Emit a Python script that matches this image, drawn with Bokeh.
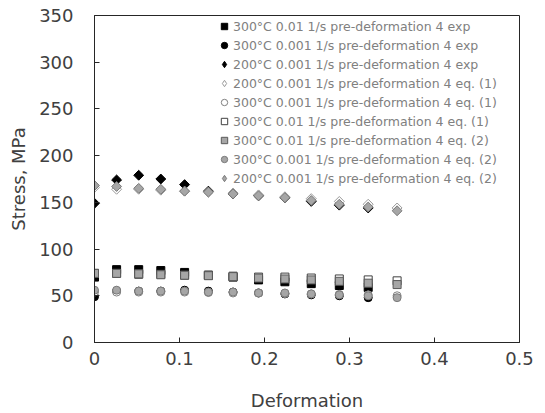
import math
from bokeh.plotting import figure
from bokeh.models import Legend, LegendItem, Range1d, FixedTicker, CustomJSTickFormatter
from bokeh.embed import file_html
from bokeh.resources import INLINE

# strain points
x_eq = [0, 0.026, 0.052, 0.078, 0.106, 0.134, 0.163, 0.193, 0.224, 0.255, 0.288, 0.322, 0.356]
x_exp = x_eq[:12]

# experimental
exp_300_001 = [70, 78, 78, 77, 75, 72, 70, 67, 65, 63, 61, 59]
exp_300_0001 = [49, 55, 55, 55, 56, 55, 54, 53, 52, 51, 50, 48]
exp_200_0001 = [149, 174, 179, 175, 169, 162, 159, 157, 155, 151, 147, 144]
# eq. (1)
eq1_200_0001 = [166, 164, 164, 163, 162, 161, 160, 158, 156, 154, 151, 148, 144]
eq1_300_0001 = [54, 54, 54, 54, 54, 53.5, 53, 53, 52.5, 52, 51.5, 51, 50]
eq1_300_001 = [74, 74, 73, 73, 72, 72, 71, 70, 70, 69, 68, 67, 66]
# eq. (2)
eq2_300_001 = [74, 74, 73.5, 72.5, 72, 71.5, 70.5, 69, 68, 67, 65.5, 63.5, 62]
eq2_300_0001 = [56, 56, 55, 55, 55, 54, 54, 53, 53, 52, 51, 50, 48]
eq2_200_0001 = [168, 167, 165, 164, 162, 161, 159, 157, 155, 152, 148, 145, 141]

labels = [
    "300°C 0.01 1/s pre-deformation 4 exp",
    "300°C 0.001 1/s pre-deformation 4 exp",
    "200°C 0.001 1/s pre-deformation 4 exp",
    "200°C 0.001 1/s pre-deformation 4 eq. (1)",
    "300°C 0.001 1/s pre-deformation 4 eq. (1)",
    "300°C 0.01 1/s pre-deformation 4 eq. (1)",
    "300°C 0.01 1/s pre-deformation 4 eq. (2)",
    "300°C 0.001 1/s pre-deformation 4 eq. (2)",
    "200°C 0.001 1/s pre-deformation 4 eq. (2)",
]
x_ticks = [0, 0.1, 0.2, 0.3, 0.4, 0.5]
y_ticks = [0, 50, 100, 150, 200, 250, 300, 350]

p = figure(width=545, height=413, output_backend="svg", toolbar_location=None,
           x_range=Range1d(0, 0.5), y_range=Range1d(0, 350),
           min_border_left=94, min_border_right=26, min_border_top=15, min_border_bottom=70)
p.xgrid.visible = False
p.ygrid.visible = False
p.outline_line_color = "#262626"
p.outline_line_width = 1
p.background_fill_color = "white"
p.border_fill_color = "white"

for ax in (p.xaxis[0], p.yaxis[0]):
    ax.major_tick_in = 5
    ax.major_tick_out = 0
    ax.minor_tick_in = 0
    ax.minor_tick_out = 0
    ax.axis_line_color = "#262626"
    ax.major_tick_line_color = "#262626"
    ax.major_label_text_font = "DejaVu Sans"
    ax.major_label_text_font_size = "18px"
    ax.major_label_text_color = "#404040"
    ax.axis_label_text_font = "DejaVu Sans"
    ax.axis_label_text_font_size = "18px"
    ax.axis_label_text_font_style = "normal"
    ax.axis_label_text_color = "#404040"

p.xaxis.ticker = FixedTicker(ticks=x_ticks)
p.yaxis.ticker = FixedTicker(ticks=y_ticks)
p.xaxis.formatter = CustomJSTickFormatter(code="return tick == 0 ? '0' : tick.toFixed(1);")
p.xaxis.axis_label = "Deformation"
p.yaxis.axis_label = "Stress, MPa"
p.xaxis.major_label_standoff = 9
p.yaxis.major_label_standoff = 21
p.xaxis.axis_label_standoff = 22
p.yaxis.axis_label_standoff = 7

rot = math.pi / 4
specs = [
    (x_exp, exp_300_001, "square", 8, "black", "black"),
    (x_exp, exp_300_0001, "circle", 8, "black", "black"),
    (x_exp, exp_200_0001, "diamond", 7, "black", "black"),
    (x_eq, eq1_200_0001, "diamond", 7, "white", "#9a9a9a"),
    (x_eq, eq1_300_0001, "circle", 8, "white", "#808080"),
    (x_eq, eq1_300_001, "square", 8, "white", "#404040"),
    (x_eq, eq2_300_001, "square", 8, "#a6a6a6", "#595959"),
    (x_eq, eq2_300_0001, "circle", 8, "#a6a6a6", "#7a7a7a"),
    (x_eq, eq2_200_0001, "diamond", 7, "#a6a6a6", "#7a7a7a"),
]
items = []
for (xs, ys, mk, sz, fc, lc), lab in zip(specs, labels):
    if mk == "diamond":
        # narrow diamond for the legend, drawn underneath and covered by the rotated square
        lr = p.scatter(xs, ys, marker="diamond", size=8, fill_color=fc, line_color=lc, line_width=1)
        p.scatter(xs, ys, marker="square", size=sz, angle=rot,
                  fill_color=fc, line_color=lc, line_width=1)
        items.append(LegendItem(label=lab, renderers=[lr]))
    else:
        r = p.scatter(xs, ys, marker=mk, size=sz, fill_color=fc, line_color=lc, line_width=1)
        items.append(LegendItem(label=lab, renderers=[r]))

legend = Legend(items=items, location=(122, 156), padding=0, margin=0,
                border_line_color=None, background_fill_alpha=0,
                glyph_width=16, glyph_height=16, label_height=15, spacing=3,
                label_standoff=1, label_text_font="DejaVu Sans", label_text_font_size="12.5px",
                label_text_color="#808080")
p.add_layout(legend, "center")

open("out.html", "w").write(file_html(p, INLINE))
